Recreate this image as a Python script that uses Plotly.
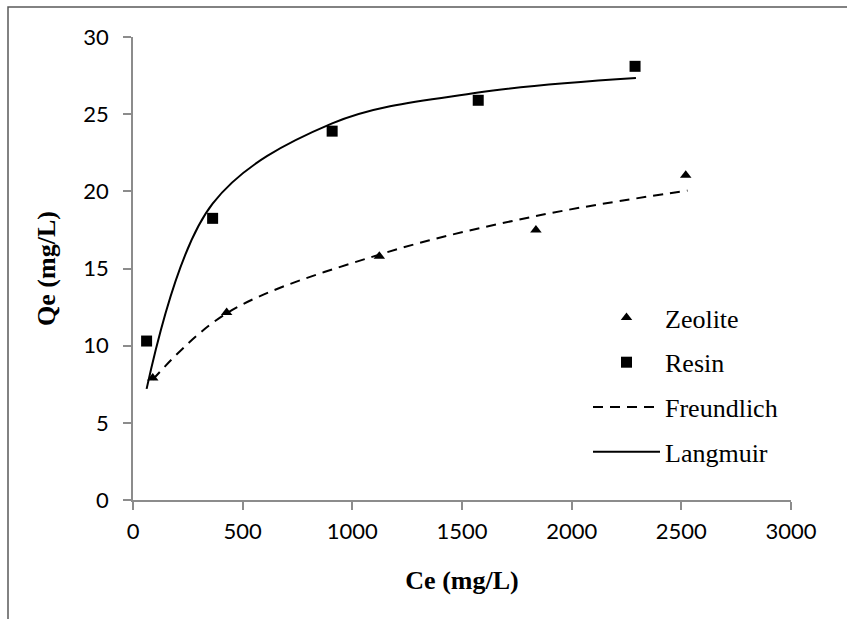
import plotly.graph_objects as go

# Equilibrium data
zeolite_ce = [90, 427, 1123, 1837, 2520]
zeolite_qe = [7.9, 12.15, 15.8, 17.5, 21.05]

resin_ce = [62, 363, 908, 1574, 2289]
resin_qe = [10.3, 18.25, 23.9, 25.9, 28.1]

# Model curves evaluated at the measured concentrations
freundlich_ce = [90, 427, 1123, 1837, 2528]
freundlich_qe = [7.8, 12.1, 15.9, 18.4, 20.05]

langmuir_ce = [62, 363, 908, 1574, 2293]
langmuir_qe = [7.2, 19.2, 24.4, 26.4, 27.35]

x_ticks = [0, 500, 1000, 1500, 2000, 2500, 3000]
y_ticks = [0, 5, 10, 15, 20, 25, 30]

W, H = 847, 619
ML, MR, MT, MB = 133, 56, 37, 119
PW, PH = W - ML - MR, H - MT - MB


def px_x(p):
    return (p - ML) / PW


def px_y(p):
    return (H - MB - p) / PH


SERIF = "Liberation Serif, Times New Roman, serif"
SANS = "Lato, Calibri, sans-serif"

fig = go.Figure()
fig.add_trace(go.Scatter(
    x=zeolite_ce, y=zeolite_qe, mode="markers", name="Zeolite",
    legendgroup="a",
    marker=dict(symbol="triangle-up", size=10, color="black"),
))
fig.add_trace(go.Scatter(
    x=resin_ce, y=resin_qe, mode="markers", name="Resin",
    legendgroup="b",
    marker=dict(symbol="square", size=11, color="black"),
))
fig.add_trace(go.Scatter(
    x=freundlich_ce, y=freundlich_qe, mode="lines", name="Freundlich",
    legendgroup="c",
    line=dict(color="black", width=2, dash="10px,7px", shape="spline"),
))
fig.add_trace(go.Scatter(
    x=langmuir_ce, y=langmuir_qe, mode="lines", name="Langmuir",
    legendgroup="d",
    line=dict(color="black", width=2, shape="spline"),
))

axis_common = dict(
    showgrid=False, zeroline=False, showline=True,
    linecolor="#8c8c8c", linewidth=1.5,
    ticks="outside", ticklen=8, tickwidth=1.5, tickcolor="#8c8c8c",
    tickfont=dict(family=SANS, size=22, color="black"),
)

fig.update_layout(
    width=W, height=H,
    margin=dict(l=ML, r=MR, t=MT, b=MB, autoexpand=False),
    paper_bgcolor="white", plot_bgcolor="white",
    xaxis=dict(range=[0, 3000], tickvals=x_ticks, **axis_common,
               ticklabelstandoff=3,
               title=dict(text="<b>Ce (mg/L)</b>", standoff=28,
                          font=dict(family=SERIF, size=26, color="black"))),
    yaxis=dict(range=[0, 30], tickvals=y_ticks, **axis_common,
               ticklabelstandoff=10,
               title=dict(text="<b>Qe (mg/L)</b>", standoff=20,
                          font=dict(family=SERIF, size=26, color="black"))),
    legend=dict(
        x=px_x(588), y=px_y(385), xanchor="left", yanchor="middle",
        font=dict(family=SERIF, size=26, color="black"),
        itemwidth=67, tracegroupgap=8, traceorder="grouped",
        bgcolor="rgba(0,0,0,0)",
    ),
    showlegend=True,
    shapes=[dict(
        type="rect", xref="paper", yref="paper",
        x0=px_x(8), x1=px_x(W + 20), y0=px_y(H + 20), y1=px_y(7),
        line=dict(color="#595959", width=1.5), layer="below",
    )],
)

fig.write_html("out.html")
